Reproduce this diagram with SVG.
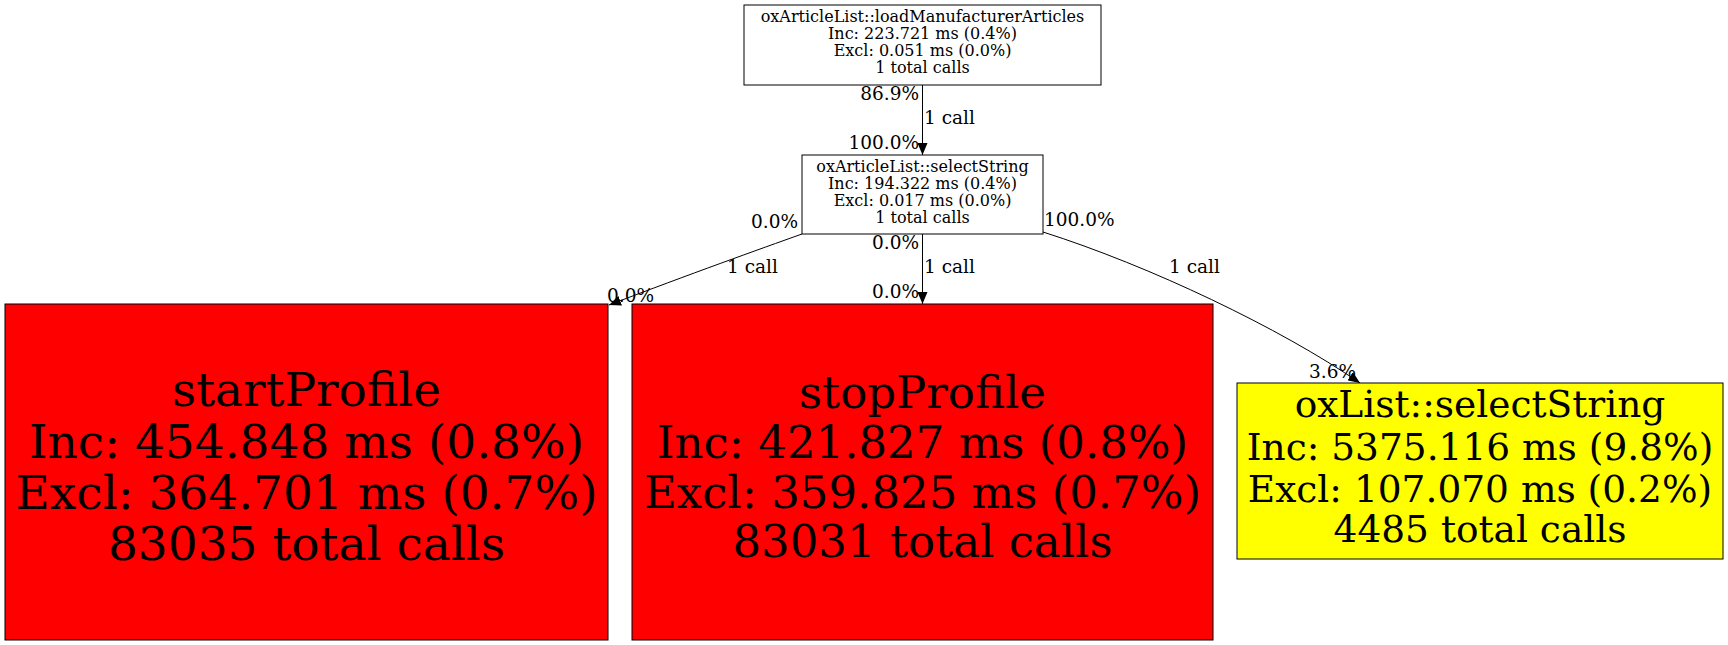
<svg xmlns="http://www.w3.org/2000/svg" width="1728" height="645" viewBox="0 0 1728 645">
<style>
  .box { stroke: #000; stroke-width: 1; }
  .white { fill: #ffffff; }
  .red { fill: #ff0000; }
  .yellow { fill: #ffff00; }
  text { font-family: "DejaVu Serif", serif; fill: #000; }
  .small { font-size: 16px; text-anchor: middle; }
  .big { font-size: 47px; text-anchor: middle; }
  .big2 { font-size: 45px; text-anchor: middle; }
  .mid { font-size: 37.5px; text-anchor: middle; }
  .lbl { font-size: 18.5px; }
  .end { text-anchor: end; }
  .edge { fill: none; stroke: #000; stroke-width: 1; }
</style>
<defs>
  <marker id="arrow" markerUnits="userSpaceOnUse" viewBox="0 0 12 10" refX="12" refY="5" markerWidth="12" markerHeight="10" orient="auto">
    <path d="M0,0 L12,5 L0,10 z" fill="#000"/>
  </marker>
</defs>
<rect width="1728" height="645" fill="#ffffff"/>

<g id="connectors">
  <g id="e1">
    <path class="edge" d="M922.5,85 L922.5,155" marker-end="url(#arrow)"/>
    <text class="lbl end" x="919" y="100">86.9%</text>
    <text class="lbl" x="924" y="124">1 call</text>
    <text class="lbl end" x="919" y="149">100.0%</text>
  </g>
  <g id="e2">
    <path class="edge" d="M922.5,234 L922.5,304" marker-end="url(#arrow)"/>
    <text class="lbl end" x="919" y="249">0.0%</text>
    <text class="lbl" x="924" y="273">1 call</text>
    <text class="lbl end" x="919" y="298">0.0%</text>
  </g>
  <g id="e3">
    <path class="edge" d="M802,234 C760,249 690,274 609,305" marker-end="url(#arrow)"/>
    <text class="lbl end" x="798" y="228">0.0%</text>
    <text class="lbl" x="727" y="273">1 call</text>
    <text class="lbl" x="607" y="302">0.0%</text>
  </g>
  <g id="e4">
    <path class="edge" d="M1043,232 C1150,266 1280,328 1360,383" marker-end="url(#arrow)"/>
    <text class="lbl" x="1044" y="226">100.0%</text>
    <text class="lbl" x="1169" y="273">1 call</text>
    <text class="lbl" x="1309" y="378">3.6%</text>
  </g>
</g>

<g id="node-loadManufacturerArticles">
  <rect class="box white" x="744" y="5" width="357" height="80"/>
  <text class="small" x="922.5" y="22">oxArticleList::loadManufacturerArticles</text>
  <text class="small" x="922.5" y="39">Inc: 223.721 ms (0.4%)</text>
  <text class="small" x="922.5" y="56">Excl: 0.051 ms (0.0%)</text>
  <text class="small" x="922.5" y="73">1 total calls</text>
</g>

<g id="node-selectString">
  <rect class="box white" x="802" y="155" width="241" height="79"/>
  <text class="small" x="922.5" y="172">oxArticleList::selectString</text>
  <text class="small" x="922.5" y="189">Inc: 194.322 ms (0.4%)</text>
  <text class="small" x="922.5" y="206">Excl: 0.017 ms (0.0%)</text>
  <text class="small" x="922.5" y="223">1 total calls</text>
</g>

<g id="node-startProfile">
  <rect class="box red" x="5" y="304" width="603" height="336"/>
  <text class="big" x="306.5" y="406">startProfile</text>
  <text class="big" x="306.5" y="457.5">Inc: 454.848 ms (0.8%)</text>
  <text class="big" x="306.5" y="509">Excl: 364.701 ms (0.7%)</text>
  <text class="big" x="306.5" y="560">83035 total calls</text>
</g>

<g id="node-stopProfile">
  <rect class="box red" x="632" y="304" width="581" height="336"/>
  <text class="big2" x="922.5" y="408">stopProfile</text>
  <text class="big2" x="922.5" y="458">Inc: 421.827 ms (0.8%)</text>
  <text class="big2" x="922.5" y="508">Excl: 359.825 ms (0.7%)</text>
  <text class="big2" x="922.5" y="557">83031 total calls</text>
</g>

<g id="node-oxListSelectString">
  <rect class="box yellow" x="1237" y="383" width="486" height="176"/>
  <text class="mid" x="1480" y="417">oxList::selectString</text>
  <text class="mid" x="1480" y="460">Inc: 5375.116 ms (9.8%)</text>
  <text class="mid" x="1480" y="502">Excl: 107.070 ms (0.2%)</text>
  <text class="mid" x="1480" y="542">4485 total calls</text>
</g>
</svg>
